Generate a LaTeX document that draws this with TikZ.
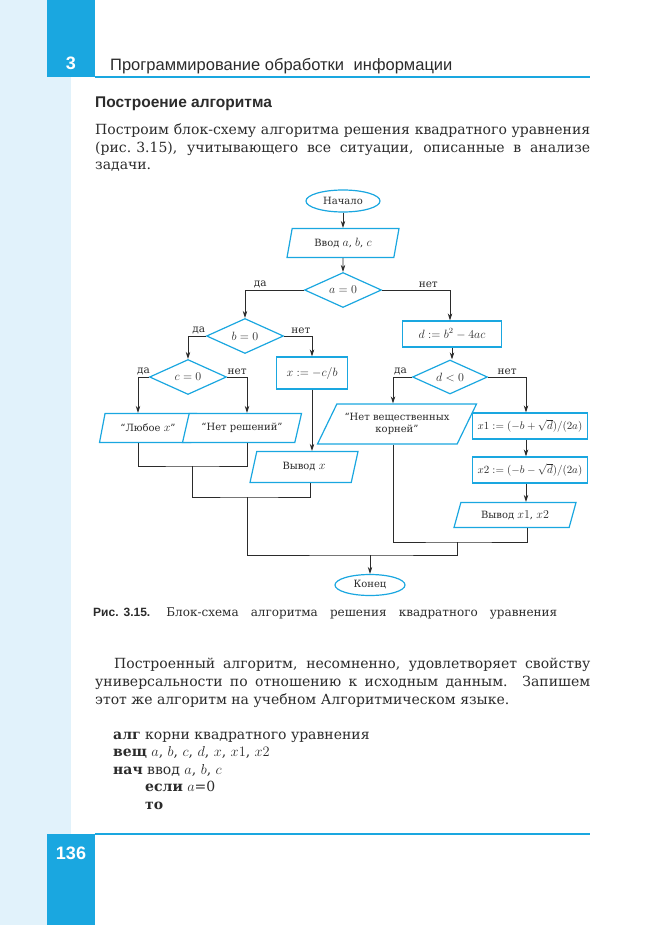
\documentclass[tikz,border=0pt]{standalone}
\usepackage{fontspec}
\setmainfont{DejaVu Serif}
\setsansfont{Liberation Sans}
\usetikzlibrary{shapes.geometric,arrows.meta}
\definecolor{pgBlue}{HTML}{1AA7E0}
\definecolor{pgPale}{HTML}{E1F2FB}
\definecolor{pgInk}{HTML}{2B2B2B}
\newcommand{\bodyfont}{\fontsize{14}{17}\selectfont}
\newcommand{\mth}[2][11.5]{{\fontsize{#1}{12}\selectfont$#2$}}
\begin{document}
\begin{tikzpicture}[x=1pt,y=-1pt,>={Stealth[length=7pt,width=4.5pt]},
  shp/.style={draw=pgBlue,line width=1.2pt,fill=white,inner sep=0pt,text=pgInk,font=\fontsize{10}{12}\selectfont},
  term/.style={shp,ellipse},
  proc/.style={shp,rectangle},
  cond/.style={shp,diamond,aspect=2.2,minimum width=77pt,minimum height=35pt},
  io/.style={shp,trapezium,trapezium left angle=55,trapezium right angle=125,trapezium stretches body},
  yn/.style={font=\fontsize{10.5}{11}\selectfont,inner sep=1.5pt,text=pgInk},
  flow/.style={pgInk,line width=0.8pt},
  txt/.style={anchor=base west,inner sep=0pt,text=pgInk,font=\bodyfont}]
\useasboundingbox (0,0) rectangle (650,925);
% page frame
\fill[pgPale] (0,0) rectangle (71,925);
\fill[pgBlue] (47,0) rectangle (95,77);
\fill[pgBlue] (47,834) rectangle (95,925);
\draw[pgBlue,line width=1.6pt] (95,77) -- (590,77);
\draw[pgBlue,line width=1.6pt] (95,834) -- (590,834);
\node[font=\sffamily\bfseries\fontsize{18}{20}\selectfont,text=white] (chap) at (71,63) {3};
\node[font=\sffamily\bfseries\fontsize{18}{20}\selectfont,text=white] (pageno) at (71,853) {136};
\node[txt,font=\sffamily\fontsize{16.5}{18}\selectfont] (runhead) at (110,71) {Программирование обработки\hspace{5pt} информации};
% text above the figure
\node[txt,font=\sffamily\bfseries\fontsize{15.5}{17}\selectfont] (subhead) at (95,108) {Построение алгоритма};
\node[txt] (pa1) at (95,135) {\makebox[495pt][s]{Построим блок-схему алгоритма решения квадратного уравнения}};
\node[txt] (pa2) at (95,152.5) {\makebox[495pt][s]{(рис.\hspace*{5pt}3.15), учитывающего все ситуации, описанные в анализе}};
\node[txt] (pa3) at (95,170) {задачи.};

% flowchart
\node[term,minimum width=74pt,minimum height=22pt] (start) at (343,201) {Начало};
\node[io,trapezium left angle=62,trapezium right angle=118,minimum width=112pt,minimum height=29pt] (input) at (343,243) {Ввод \mth{a}, \mth{b}, \mth{c}};
\node[cond] (ca) at (343,290) {\mth{a = 0}};
\node[cond] (cb) at (245,336) {\mth{b = 0}};
\node[cond] (cc) at (188,377) {\mth{c = 0}};
\node[io,minimum width=97pt,minimum height=29pt] (any) at (148,428) {“Любое \mth{x}”};
\node[io,minimum width=119pt,minimum height=29pt] (nosol) at (242,428) {“Нет решений”};
\node[proc,minimum width=71pt,minimum height=32pt] (lin) at (312,373) {\mth{x := -c/b}};
\node[io,trapezium left angle=52,trapezium right angle=128,minimum width=108pt,minimum height=31pt] (outx) at (304,467) {Вывод \mth{x}};
\node[proc,minimum width=99pt,minimum height=26pt] (disc) at (452,334) {\mth{d := b^2 - 4ac}};
\node[cond,minimum width=75pt,minimum height=34pt] (cd) at (450,377) {\mth{d < 0}};
\node[io,trapezium left angle=48,trapezium right angle=132,minimum width=159pt,minimum height=40pt,align=center] (noreal) at (397,424) {“Нет вещественных\\корней”};
\node[proc,minimum width=115pt,minimum height=26pt] (xa) at (530,426) {\mth[10.6]{x1 := (-b+\sqrt{d})/(2a)}};
\node[proc,minimum width=115pt,minimum height=26pt] (xb) at (530,470) {\mth[10.6]{x2 := (-b-\sqrt{d})/(2a)}};
\node[io,trapezium left angle=53,trapezium right angle=127,minimum width=122pt,minimum height=25pt] (outxx) at (515,515) {Вывод \mth{x1}, \mth{x2}};
\node[term,minimum width=70pt,minimum height=21pt] (stop) at (370,585) {Конец};

\coordinate (j1) at (192,466);
\coordinate (j2) at (247,497);
\coordinate (j3) at (457,542);
\coordinate (j4) at (370,555);

\draw[flow,->] (start) -- (input);
\draw[flow,->] (input) -- (ca);
\draw[flow,->] (ca.west) -| (cb.north) node[yn,pos=0.37,above] {да};
\draw[flow,->] (ca.east) -| ([xshift=-2pt]disc.north) node[yn,pos=0.34,above] {нет};
\draw[flow,->] (cb.west) -| (cc.north) node[yn,pos=0.2,above] {да};
\draw[flow,->] (cb.east) -| (lin.north) node[yn,pos=0.3,above] {нет};
\draw[flow,->] (cc.west) -| ([xshift=-10pt]any.north) node[yn,pos=0.25,above] {да};
\draw[flow,->] (cc.east) -| ([xshift=5pt]nosol.north) node[yn,pos=0.25,above] {нет};
\draw[flow,->] (lin) -- (lin |- outx.north);
\draw[flow,->] (disc) -- (disc |- cd.north);
\draw[flow,->] (cd.west) -| ([xshift=-4pt]noreal.north) node[yn,pos=0.3,above] {да};
\draw[flow,->] (cd.east) -| ([xshift=-4pt]xa.north) node[yn,pos=0.25,above] {нет};
\draw[flow,->] ([xshift=-4pt]xa.south) -- ([xshift=-4pt]xb.north);
\draw[flow,->] ([xshift=-4pt]xb.south) -- ([xshift=-4pt]xb.south |- outxx.north);
\draw[flow] ([xshift=-10pt]any.south) |- (j1) -| ([xshift=5pt]nosol.south);
\draw[flow] (j1) |- (j2) -| ([xshift=6pt]outx.south);
\draw[flow] ([xshift=-4pt]noreal.south) |- (j3) -| ([xshift=12pt]outxx.south);
\draw[flow] (j2) |- (j4) -| (j3);
\draw[flow,->] (j4) -- (stop);

% caption and text below
\node[txt,font=\fontsize{12}{14}\selectfont] (cap) at (93,616) {\makebox[464pt][s]{{\sffamily\bfseries\fontsize{12}{14}\selectfont Рис.\hspace*{5pt}3.15.}\hspace*{4pt} Блок-схема алгоритма решения квадратного уравнения}};
\node[txt] (pb1) at (114,668) {\makebox[476pt][s]{Построенный алгоритм, несомненно, удовлетворяет свойству}};
\node[txt] (pb2) at (95,686) {\makebox[495pt][s]{универсальности по отношению к исходным данным. Запишем}};
\node[txt] (pb3) at (95,704) {этот же алгоритм на учебном Алгоритмическом языке.};
\node[txt] (alg1) at (113,739) {\textbf{алг} корни квадратного уравнения};
\node[txt] (alg2) at (113,756.5) {\textbf{вещ} $a$, $b$, $c$, $d$, $x$, $x1$, $x2$};
\node[txt] (alg3) at (113,774) {\textbf{нач} ввод $a$, $b$, $c$};
\node[txt] (alg4) at (145,791.5) {\textbf{если} $a$=0};
\node[txt] (alg5) at (145,809) {\textbf{то}};
\end{tikzpicture}
\end{document}
